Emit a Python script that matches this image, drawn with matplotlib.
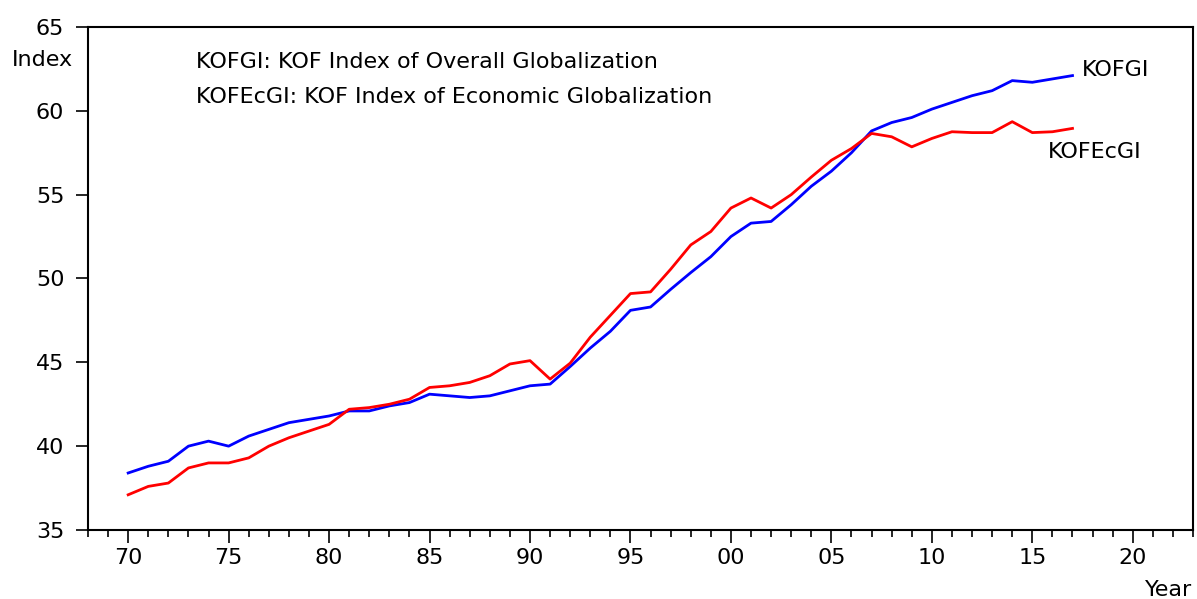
import numpy as np
import matplotlib
matplotlib.use("Agg")
import matplotlib.pyplot as plt
from matplotlib.ticker import MultipleLocator, FixedLocator

years = list(range(1970, 2018))

kofgi = [38.4, 38.8, 39.1, 40.0, 40.3, 40.0, 40.6, 41.0, 41.4, 41.6,
         41.8, 42.1, 42.1, 42.4, 42.6, 43.1, 43.0, 42.9, 43.0, 43.3,
         43.6, 43.7, 44.75, 45.85, 46.85, 48.1, 48.3, 49.35, 50.35, 51.3,
         52.5, 53.3, 53.4, 54.4, 55.5, 56.4, 57.5, 58.8, 59.3, 59.6,
         60.1, 60.5, 60.9, 61.2, 61.8, 61.7, 61.9, 62.1]

kofecgi = [37.1, 37.6, 37.8, 38.7, 39.0, 39.0, 39.3, 40.0, 40.5, 40.9,
           41.3, 42.2, 42.3, 42.5, 42.8, 43.5, 43.6, 43.8, 44.2, 44.9,
           45.1, 44.0, 44.95, 46.5, 47.8, 49.1, 49.2, 50.55, 52.0, 52.8,
           54.2, 54.8, 54.2, 55.0, 56.05, 57.05, 57.75, 58.65, 58.45, 57.85,
           58.35, 58.75, 58.7, 58.7, 59.35, 58.7, 58.75, 58.95]

major_years = list(range(1970, 2021, 5))
major_labels = ["%02d" % (y % 100) for y in major_years]

plt.rcParams['font.family'] = ['DejaVu Sans']
fs = 16

fig = plt.figure(figsize=(11.97, 5.99), dpi=100)
ax = fig.add_axes([0.0735, 0.1152, 0.9232, 0.8398])

ax.plot(years, kofgi, color='#0000ff', lw=2)
ax.plot(years, kofecgi, color='#ff0000', lw=2)

ax.set_xlim(1968, 2023)
ax.set_ylim(35, 65)

ax.xaxis.set_major_locator(FixedLocator(major_years))
ax.set_xticklabels(major_labels)
ax.xaxis.set_minor_locator(MultipleLocator(1))
ax.yaxis.set_major_locator(MultipleLocator(5))

ax.tick_params(axis='x', which='major', direction='out', length=9, width=1.2,
               labelsize=fs, pad=4, colors='black')
ax.tick_params(axis='x', which='minor', direction='out', length=5, width=1.2)
ax.tick_params(axis='y', which='major', direction='out', length=9, width=1.2,
               labelsize=fs, pad=8)

for s in ax.spines.values():
    s.set_linewidth(1.5)

ax.text(1973.37, 62.9, "KOFGI: KOF Index of Overall Globalization",
        fontsize=fs, va='center', ha='left')
ax.text(1973.37, 60.8, "KOFEcGI: KOF Index of Economic Globalization",
        fontsize=fs, va='center', ha='left')
ax.text(2017.45, 62.45, "KOFGI", fontsize=fs, va='center', ha='left')
ax.text(2015.76, 57.55, "KOFEcGI", fontsize=fs, va='center', ha='left')

fig.text(12 / 1197, 1 - 60 / 599, "Index", fontsize=fs, va='center', ha='left')
fig.text(1192 / 1197, 1 - 590 / 599, "Year", fontsize=fs, va='center', ha='right')

fig.savefig("out.png", dpi=100)
